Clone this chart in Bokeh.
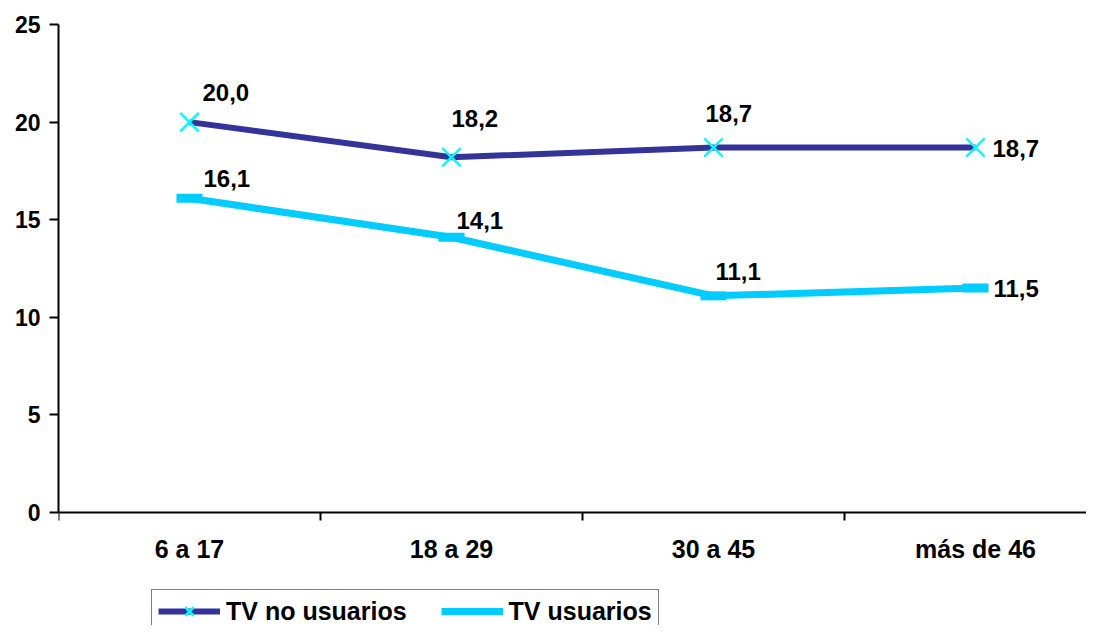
from bokeh.plotting import figure
from bokeh.models import Range1d, FixedTicker, Legend, LegendItem, ColumnDataSource
from bokeh.core.properties import value
from bokeh.embed import file_html
from bokeh.resources import INLINE

categories = ["6 a 17", "18 a 29", "30 a 45", "más de 46"]
tv_no_usuarios = [20.0, 18.2, 18.7, 18.7]
tv_usuarios = [16.1, 14.1, 11.1, 11.5]
y_ticks = [0, 5, 10, 15, 20, 25]

# label offsets (screen px) for the data labels
no_dx = [13, 0, -8, 17]
no_dy = [-30, -39, -34, 1]
us_dx = [14, 5, 2, 18]
us_dy = [-20, -17, -24, 0]

NAVY = "#333399"
CYAN = "#00CCFF"
XCOL = "#00FFFF"
FONT = "Liberation Sans"

W, H = 1086, 625
LEFT, TOP = 58, 24
PX_PER_UNIT = 488 / 25
PX_PER_CAT = 262

xs = [i + 0.5 for i in range(len(categories))]

frame_w = W - LEFT
frame_h = H - TOP
p = figure(width=W, height=H, output_backend="svg", toolbar_location=None,
           x_range=Range1d(0, frame_w / PX_PER_CAT),
           y_range=Range1d(25 - frame_h / PX_PER_UNIT, 25),
           min_border_left=LEFT, min_border_right=0, min_border_top=TOP, min_border_bottom=0)
p.outline_line_color = None
p.xgrid.grid_line_color = None
p.ygrid.grid_line_color = None
p.background_fill_color = "white"
p.border_fill_color = "white"

# y axis
ya = p.yaxis[0]
ya.ticker = FixedTicker(ticks=y_ticks)
ya.bounds = (0, 25)
ya.axis_line_width = 2
ya.axis_line_color = "black"
ya.major_tick_out = 9
ya.major_tick_in = 0
ya.major_tick_line_width = 2
ya.minor_tick_line_color = None
ya.major_label_standoff = 9
ya.major_label_text_font = FONT
ya.major_label_text_font_style = "bold"
ya.major_label_text_font_size = "23px"
ya.major_label_text_color = "black"

# x axis placed at y = 0
xa = p.xaxis[0]
xa.fixed_location = 0
xa.ticker = FixedTicker(ticks=xs, minor_ticks=list(range(len(categories) + 1)))
xa.major_label_overrides = {x: c for x, c in zip(xs, categories)}
xa.axis_line_width = 2
xa.axis_line_color = "black"
xa.major_tick_out = 0
xa.major_tick_in = 0
xa.minor_tick_out = 8
xa.minor_tick_in = 0
xa.minor_tick_line_width = 2
xa.minor_tick_line_color = "black"
xa.major_label_standoff = 14
xa.major_label_text_font = FONT
xa.major_label_text_font_style = "bold"
xa.major_label_text_font_size = "25px"
xa.major_label_text_color = "black"

# series
l1 = p.line(xs, tv_no_usuarios, line_color=NAVY, line_width=6, line_join="round")
m1 = p.scatter(xs, tv_no_usuarios, marker="x", size=26, line_color=XCOL, line_width=2.5)
l2 = p.line(xs, tv_usuarios, line_color=CYAN, line_width=7, line_join="round")
m2 = p.scatter(xs, tv_usuarios, marker="dash", size=26, line_color=CYAN, line_width=9)

def fmt(v):
    return f"{v:.1f}".replace(".", ",")

src1 = ColumnDataSource(dict(x=xs, y=tv_no_usuarios, t=[fmt(v) for v in tv_no_usuarios], dx=no_dx, dy=no_dy))
src2 = ColumnDataSource(dict(x=xs, y=tv_usuarios, t=[fmt(v) for v in tv_usuarios], dx=us_dx, dy=us_dy))
for s in (src1, src2):
    p.text(x="x", y="y", text="t", x_offset="dx", y_offset="dy", source=s,
           text_font=value(FONT), text_font_style="bold", text_font_size="24px",
           text_color="black", text_align="left", text_baseline="middle")

legend = Legend(items=[LegendItem(label="TV no usuarios", renderers=[l1, m1]),
                       LegendItem(label="TV usuarios", renderers=[l2])],
                location=(93, -8), orientation="horizontal")
legend.glyph_width = 62
legend.glyph_height = 30
legend.label_standoff = 6
legend.spacing = 34
legend.padding = 6
legend.margin = 0
legend.label_text_font = FONT
legend.label_text_font_style = "bold"
legend.label_text_font_size = "25px"
legend.label_text_color = "black"
legend.label_text_baseline = "middle"
legend.border_line_color = "black"
legend.border_line_width = 1.5
legend.background_fill_color = "white"
legend.background_fill_alpha = 1
p.add_layout(legend, "center")

open("out.html", "w").write(file_html(p, INLINE))
